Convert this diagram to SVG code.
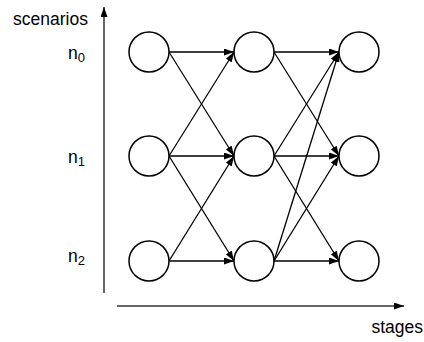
<svg xmlns="http://www.w3.org/2000/svg" width="424" height="342" viewBox="0 0 424 342">
<style>
.node{fill:#fff;stroke:#000;stroke-width:1.5}
.edge{stroke:#000;stroke-width:1.3;fill:none;marker-end:url(#ah)}
.axis{stroke:#333;stroke-width:1.5;fill:none;marker-end:url(#axh)}
.lbl{font-family:"Liberation Sans",Arial,sans-serif;font-size:17.5px;fill:#000}
.sub{font-size:13px}
</style>
<defs>
<marker id="ah" markerUnits="userSpaceOnUse" markerWidth="10" markerHeight="7" refX="10" refY="3.5" orient="auto"><path d="M0,0 L10,3.5 L0,7 z" fill="#000"/></marker>
<marker id="axh" markerUnits="userSpaceOnUse" markerWidth="10" markerHeight="7" refX="10" refY="3.5" orient="auto"><path d="M0,0 L10,3.5 L0,7 z" fill="#000"/></marker>
</defs>
<g id="axes">
<line class="axis" x1="104" y1="293" x2="104" y2="7"/>
<line class="axis" x1="117" y1="306" x2="404" y2="306"/>
</g>
<g id="labels">
<text class="lbl" x="88" y="25" text-anchor="end">scenarios</text>
<text class="lbl" x="68" y="59">n<tspan class="sub" dy="3">0</tspan></text>
<text class="lbl" x="68" y="163">n<tspan class="sub" dy="3">1</tspan></text>
<text class="lbl" x="68" y="262">n<tspan class="sub" dy="3">2</tspan></text>
<text class="lbl" x="423" y="333" text-anchor="end">stages</text>
</g>
<g id="connectors">
<line class="edge" x1="169" y1="52" x2="234" y2="52"/>
<line class="edge" x1="169" y1="52" x2="234" y2="156"/>
<line class="edge" x1="169" y1="156" x2="234" y2="52"/>
<line class="edge" x1="169" y1="156" x2="234" y2="156"/>
<line class="edge" x1="169" y1="156" x2="234" y2="261"/>
<line class="edge" x1="169" y1="261" x2="234" y2="156"/>
<line class="edge" x1="169" y1="261" x2="234" y2="261"/>
<line class="edge" x1="274" y1="52" x2="339" y2="52"/>
<line class="edge" x1="274" y1="52" x2="339" y2="156"/>
<line class="edge" x1="274" y1="156" x2="339" y2="52"/>
<line class="edge" x1="274" y1="156" x2="339" y2="156"/>
<line class="edge" x1="274" y1="156" x2="339" y2="261"/>
<line class="edge" x1="274" y1="261" x2="339" y2="52"/>
<line class="edge" x1="274" y1="261" x2="339" y2="156"/>
<line class="edge" x1="274" y1="261" x2="339" y2="261"/>
</g>
<g id="s1n0"><circle class="node" cx="149" cy="52" r="20"/></g>
<g id="s1n1"><circle class="node" cx="149" cy="156" r="20"/></g>
<g id="s1n2"><circle class="node" cx="149" cy="261" r="20"/></g>
<g id="s2n0"><circle class="node" cx="254" cy="52" r="20"/></g>
<g id="s2n1"><circle class="node" cx="254" cy="156" r="20"/></g>
<g id="s2n2"><circle class="node" cx="254" cy="261" r="20"/></g>
<g id="s3n0"><circle class="node" cx="359" cy="52" r="20"/></g>
<g id="s3n1"><circle class="node" cx="359" cy="156" r="20"/></g>
<g id="s3n2"><circle class="node" cx="359" cy="261" r="20"/></g>
</svg>
